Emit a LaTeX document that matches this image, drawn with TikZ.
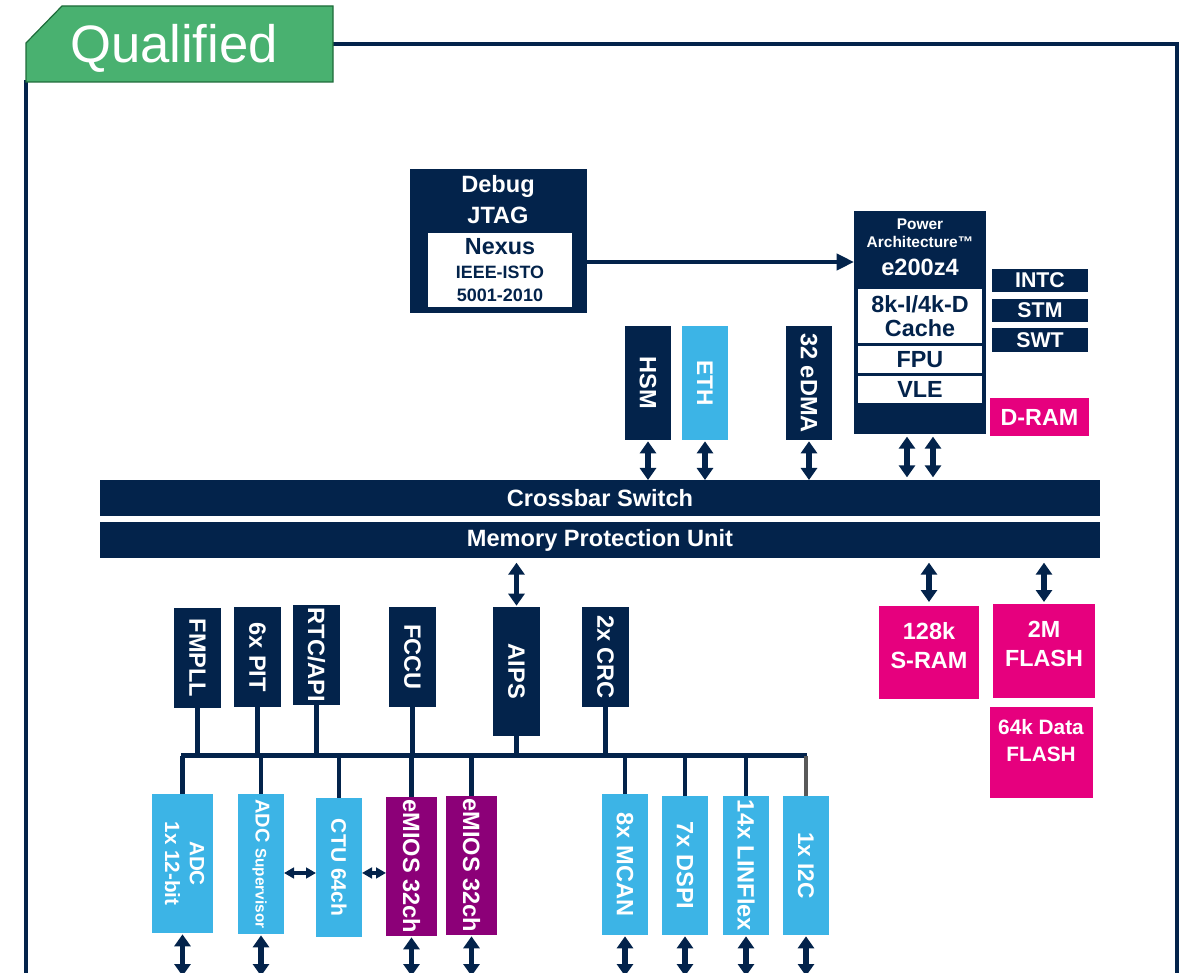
\documentclass[tikz,border=0pt]{standalone}
\usepackage{graphicx}
\usepackage{fontspec}
\setmainfont{Liberation Sans}
\usetikzlibrary{arrows.meta,calc}
\definecolor{navy}{HTML}{03234B}
\definecolor{lblue}{HTML}{3CB4E6}
\definecolor{mag}{HTML}{E6007E}
\definecolor{purp}{HTML}{8C0078}
\definecolor{tagg}{HTML}{49B170}
\definecolor{tagd}{HTML}{1E6B3A}
\newcommand\myfs[2]{\fontsize{#1}{#2}\selectfont}
\newcommand\vtext[1]{\rotatebox{-90}{#1}}
\newcommand\bx[7]{\node[#6, minimum width={(#4-#2)*0.75pt}, minimum height={(#5-#3)*0.75pt}] (#1) at ({(#2+#4)/2},{(#3+#5)/2}) {#7};}
\begin{document}
\begin{tikzpicture}[x=0.75pt,y=-0.75pt,
  blk/.style={inner sep=0pt, outer sep=0pt, font=\bfseries\myfs{17.7}{19}, text=white, align=center},
  nv/.style={blk, fill=navy},
  lb/.style={blk, fill=lblue},
  pp/.style={blk, fill=purp},
  mg/.style={blk, fill=mag},
  wt/.style={blk, fill=white, text=navy},
  txt/.style={inner sep=0pt, outer sep=0pt, font=\bfseries\myfs{17.7}{19}, text=white, align=center},
  dbl/.style={draw=navy, line width=3.8pt, {Triangle[width=12pt,length=9pt]}-{Triangle[width=12pt,length=9pt]}},
  sdbl/.style={draw=navy, line width=2.5pt, {Triangle[width=8pt,length=7.5pt]}-{Triangle[width=8pt,length=7.5pt]}},
  bus/.style={draw=navy, line width=3.7pt},
  frame/.style={draw=navy, line width=3.5pt},
]
\useasboundingbox (0,0) rectangle (1186,973);
% frame and tag
\draw[frame] (26,985) -- (26,80);
\draw[frame, line join=miter] (333,44) -- (1177,44) -- (1177,985);
\filldraw[fill=tagg, draw=tagd, line width=0.9pt] (26,43) -- (62,6) -- (333,6) -- (333,82) -- (26,82) -- cycle;
\node[anchor=base, text=white, inner sep=0pt, font=\myfs{39.5}{40}] (qual) at (174,63) {Qualified};

% debug
\bx{dbg}{410}{169}{587}{313}{nv}{}
\node[txt, anchor=base] (dbgt1) at (498,193) {Debug};
\node[txt, anchor=base] (dbgt2) at (498,224) {JTAG};
\bx{nex}{428}{233}{572}{307}{wt}{}
\node[txt, text=navy, anchor=base, font=\bfseries\myfs{17.5}{18}] (nex1) at (500,255) {Nexus};
\node[txt, text=navy, anchor=base, font=\bfseries\myfs{13.4}{14}] (nex2) at (500,279) {IEEE-ISTO};
\node[txt, text=navy, anchor=base, font=\bfseries\myfs{13.5}{14}] (nex3) at (500,302) {5001-2010};

% core
\bx{core}{854}{211}{986}{434}{nv}{}
\node[txt, anchor=base, font=\bfseries\myfs{11.6}{12}] (pwr) at (920,230) {Power};
\node[txt, anchor=base, font=\bfseries\myfs{11.6}{12}] (arch) at (920,248) {Architecture™};
\node[txt, anchor=base] (ez) at (920,276) {e200z4};
\bx{cache}{858}{289}{982}{343}{wt, font=\bfseries\myfs{17.5}{18}}{8k-I/4k-D\\Cache}
\bx{fpu}{858}{346}{982}{373}{wt, font=\bfseries\myfs{17.5}{18}}{FPU}
\bx{vle}{858}{376}{982}{403}{wt, font=\bfseries\myfs{17.5}{18}}{VLE}
\bx{intc}{992}{269}{1088}{292}{nv, font=\bfseries\myfs{16}{17}}{INTC}
\bx{stm}{992}{299}{1088}{322}{nv, font=\bfseries\myfs{16}{17}}{STM}
\bx{swt}{992}{328}{1088}{352}{nv, font=\bfseries\myfs{16}{17}}{SWT}
\bx{dram}{990}{398}{1089}{436}{mg, font=\bfseries\myfs{17.5}{18}}{D-RAM}

\coordinate (a1) at ([yshift=-15.75pt]dbg.east);
\draw[navy, line width=3pt, -{Triangle[width=12pt,length=13pt]}] (a1) -- (a1 -| core.west);

% masters
\bx{hsm}{625}{326}{671}{440}{nv}{\vtext{HSM}}
\bx{eth}{682}{326}{728}{440}{lb, font=\bfseries\myfs{17}{18}}{\vtext{ETH}}
\bx{edma}{786}{326}{832}{440}{nv}{\vtext{32 eDMA}}

% bars
\bx{xbar}{100}{480}{1100}{516}{nv}{Crossbar Switch}
\bx{mpu}{100}{522}{1100}{558}{nv}{Memory Protection Unit}

\foreach \n in {hsm,eth,edma}{\draw[dbl, shorten <=1pt] (\n.south) -- (\n.south |- xbar.north);}
\coordinate (c1) at ([xshift=-9.75pt]core.south);
\coordinate (c2) at ([xshift=9.75pt]core.south);
\draw[dbl, shorten <=2pt, shorten >=2pt] (c1) -- (c1 |- xbar.north);
\draw[dbl, shorten <=2pt, shorten >=2pt] (c2) -- (c2 |- xbar.north);

% memories
\bx{sram}{879}{606}{979}{699}{mg}{}
\node[txt, font=\bfseries\myfs{17.6}{21.75}] (sramt) at (929,646) {128k\\S-RAM};
\bx{flash}{993}{604}{1095}{698}{mg}{}
\node[txt, font=\bfseries\myfs{17.5}{21.75}] (flasht) at (1044,644) {2M\\FLASH};
\bx{dflash}{990}{707}{1093}{798}{mg}{}
\node[txt, font=\bfseries\myfs{15.6}{20.25}] (dflasht) at (1041,741) {64k Data\\FLASH};

% peripherals top
\bx{fmpll}{174}{608}{221}{708}{nv}{\vtext{FMPLL}}
\bx{pit}{234}{607}{281}{707}{nv}{\vtext{6x PIT}}
\bx{rtc}{293}{605}{340}{705}{nv}{\vtext{RTC/API}}
\bx{fccu}{389}{607}{436}{707}{nv}{\vtext{FCCU}}
\bx{aips}{493}{607}{540}{736}{nv}{\vtext{AIPS}}
\bx{crc}{582}{607}{629}{707}{nv}{\vtext{2x CRC}}

\draw[dbl, shorten <=3.5pt, shorten >=1pt] (mpu.south -| aips.north) -- (aips.north);
\draw[dbl, shorten <=3.5pt, shorten >=3pt] (mpu.south -| sram.north) -- (sram.north);
\draw[dbl, shorten <=3.5pt, shorten >=1.5pt] (mpu.south -| flash.north) -- (flash.north);

% bus
\coordinate (busL) at (181,755.5);
\coordinate (busR) at (807,755.5);
\draw[bus] (busL) -- (busR);
\foreach \n in {fmpll,pit,rtc,fccu,aips,crc}{\draw[bus] (\n.south) -- (\n.south |- busL);}

% peripherals bottom
\bx{adc}{152}{794}{213}{933}{lb, font=\bfseries\myfs{15.5}{18.5}}{\vtext{\begin{tabular}{@{}c@{}}ADC\\1x 12-bit\end{tabular}}}
\bx{adcs}{238}{794}{284}{934}{lb, font=\bfseries\myfs{15}{16}}{\vtext{ADC {\myfs{11.5}{12}Supervisor}}}
\bx{ctu}{316}{798}{362}{937}{lb, font=\bfseries\myfs{15.8}{17}}{\vtext{CTU 64ch}}
\bx{emios1}{386}{797}{437}{936}{pp}{\vtext{eMIOS 32ch}}
\bx{emios2}{446}{796}{497}{935}{pp}{\vtext{eMIOS 32ch}}
\bx{mcan}{602}{794}{648}{935}{lb}{\vtext{8x MCAN}}
\bx{dspi}{662}{796}{708}{935}{lb}{\vtext{7x DSPI}}
\bx{lin}{723}{796}{769}{935}{lb}{\vtext{14x LINFlex}}
\bx{i2c}{783}{796}{829}{935}{lb, font=\bfseries\myfs{17}{18}}{\vtext{1x I2C}}

\foreach \n in {adc,adcs,ctu,emios1,emios2,mcan,dspi,lin}{\draw[bus] (\n.north |- busL) -- (\n.north);}
\draw[bus, draw=black!65] (i2c.north |- busL) -- (i2c.north);

\coordinate (h1) at ([yshift=-6.75pt]adcs.east);
\draw[sdbl] (h1) -- (h1 -| ctu.west);
\coordinate (h2) at ([yshift=-4.1pt]ctu.east);
\draw[sdbl] (h2) -- (h2 -| emios1.west);

\coordinate (bot) at (0,976);
\foreach \n in {adc,adcs,emios1,emios2,mcan,dspi,lin,i2c}{\draw[dbl, shorten <=1pt] (\n.south) -- (\n.south |- bot);}
\end{tikzpicture}
\end{document}
